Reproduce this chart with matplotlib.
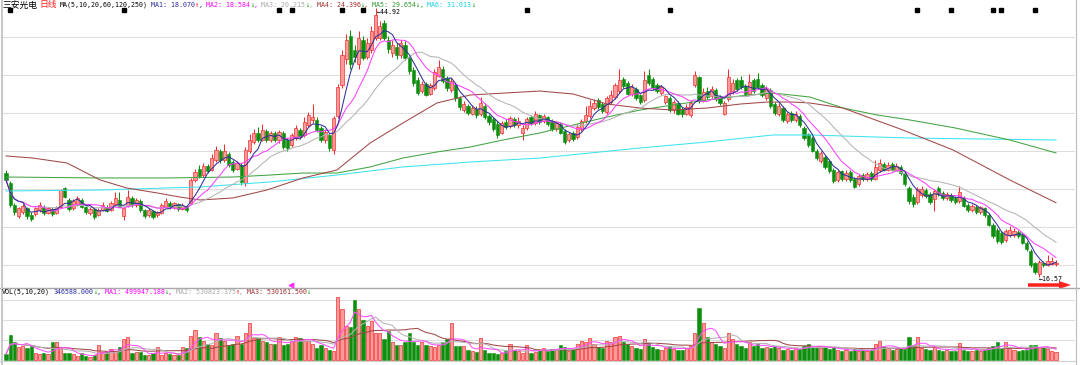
import numpy as np
import pandas as pd
import matplotlib
matplotlib.use('Agg')
import matplotlib.pyplot as plt
from matplotlib.patches import FancyArrow
from matplotlib.lines import Line2D
from matplotlib.transforms import blended_transform_factory

# ---------------- data ----------------
opens = [27.5,26.5,24.2,23.0,23.4,23.8,23.1,23.2,23.6,24.0,
         23.3,23.7,23.3,23.9,25.9,24.7,23.8,24.3,24.7,24.0,
         23.3,23.7,23.1,23.6,24.0,23.6,24.3,24.7,23.0,24.1,
         24.9,24.2,24.6,23.6,23.1,23.5,23.1,23.3,24.0,24.4,
         23.9,24.3,23.7,24.1,24.4,26.8,28.0,27.3,28.3,27.9,
         28.9,29.8,28.9,29.5,28.7,28.0,28.4,26.5,29.8,30.8,
         31.8,31.0,32.0,31.0,31.7,31.0,31.8,31.0,30.5,31.2,
         32.1,31.5,32.6,33.1,33.1,32.3,31.0,31.5,30.0,33.5,
         36.8,39.5,42.0,40.5,39.0,41.5,39.8,40.5,41.8,41.8,
         43.3,41.6,40.2,40.8,40.0,41.0,39.6,38.4,37.3,36.2,
         36.9,35.9,36.5,37.8,38.5,37.5,36.3,36.8,35.4,34.2,
         34.6,33.8,34.3,33.7,34.6,33.5,33.2,32.7,31.8,32.9,
         32.5,33.2,32.6,31.8,32.3,33.4,32.8,33.6,33.0,33.4,
         33.0,32.2,32.7,32.0,31.0,31.8,31.3,32.2,33.0,33.5,
         34.4,35.2,34.8,34.0,35.0,35.5,36.2,37.4,37.0,35.9,
         36.4,35.7,35.2,37.9,37.4,36.8,36.0,35.0,35.4,34.2,
         34.9,34.3,33.8,33.6,36.8,37.6,35.2,36.2,35.6,36.3,
         35.5,33.8,35.3,36.2,37.3,37.3,36.7,35.9,37.3,37.4,
         36.8,35.4,36.3,34.8,33.8,34.4,33.0,33.9,33.1,33.5,
         32.3,31.6,31.2,29.9,28.8,29.2,28.8,27.9,26.8,27.7,
         26.9,27.6,26.9,26.4,27.3,26.9,27.5,26.9,27.8,28.5,
         27.9,28.5,27.9,28.2,27.5,26.0,25.0,24.5,25.2,25.7,
         25.3,24.8,26.0,25.4,24.9,25.2,24.9,24.6,24.9,24.2,
         23.6,24.0,23.4,23.8,23.1,22.1,21.5,21.2,20.5,21.0,
         21.0,21.3,21.0,20.2,19.3,18.0,16.9,18.1,17.8,17.9,17.9]
closes = [26.8,24.2,23.4,23.8,24.1,23.0,22.7,23.8,24.2,23.3,
          23.8,23.2,24.0,25.7,25.0,23.7,24.6,24.9,24.0,23.4,
          23.7,22.9,23.6,24.2,23.5,24.4,24.9,24.0,23.8,25.0,
          24.2,24.7,23.6,23.0,23.6,22.9,23.4,24.2,24.6,23.9,
          24.4,23.7,24.1,23.6,26.8,27.6,27.2,28.3,27.7,29.1,
          30.0,28.9,29.8,28.4,27.9,28.6,26.6,30.0,31.0,31.7,
          31.0,32.1,31.0,31.7,31.0,31.9,30.3,30.2,31.5,32.3,
          31.3,32.9,33.6,33.4,32.1,31.0,31.9,30.2,33.3,36.6,
          40.0,41.5,39.0,39.8,41.8,39.7,41.2,42.5,44.2,43.0,
          41.8,40.6,41.0,40.0,41.2,39.6,38.3,37.0,36.0,36.9,
          35.8,36.8,38.2,38.7,37.2,36.5,37.2,35.4,34.5,34.8,
          33.9,34.4,33.6,34.9,33.4,32.9,32.2,31.5,32.8,32.4,
          33.3,32.6,33.0,32.3,33.2,32.8,33.8,32.9,33.5,32.7,
          32.2,32.8,31.8,30.8,31.6,31.1,32.4,33.0,33.6,34.6,
          34.9,34.5,34.1,35.4,35.8,36.8,37.3,36.7,35.9,36.6,
          35.4,35.0,37.3,37.0,36.5,36.2,36.6,35.6,34.2,35.0,
          33.8,33.7,34.5,34.9,37.9,35.1,36.1,35.5,36.4,35.3,
          34.9,34.9,37.6,37.0,36.4,36.6,35.9,37.1,36.2,36.6,
          35.7,36.4,34.6,33.9,34.6,33.1,33.8,33.1,33.8,32.6,
          31.2,30.5,29.9,29.1,29.6,28.2,27.7,26.7,27.6,26.9,
          27.5,26.8,26.1,27.2,26.9,27.4,26.9,28.2,28.6,27.9,
          28.4,27.9,28.3,27.5,26.4,24.6,24.3,25.8,25.8,25.1,
          24.5,25.6,25.3,24.9,25.3,24.7,24.5,25.5,24.1,23.6,
          24.1,23.4,23.9,23.1,22.1,20.9,20.4,20.3,21.4,21.5,
          21.4,20.9,20.2,19.5,17.8,17.1,18.2,17.8,18.3,18.3,18.1]
highs = [27.8,26.7,24.4,24.0,24.3,24.0,23.4,24.0,24.5,24.2,
         24.0,23.9,24.1,25.8,26.1,24.9,24.8,25.1,24.9,24.1,
         23.9,23.8,23.8,24.5,24.2,24.6,25.5,25.5,24.0,25.7,
         25.1,24.9,24.8,23.7,23.8,23.6,23.5,24.4,24.9,24.6,
         24.5,24.4,24.4,24.2,27.0,28.0,28.4,28.6,28.5,29.5,
         30.4,30.1,30.6,29.7,28.9,28.8,28.6,30.3,31.6,32.2,
         32.4,32.7,32.2,32.0,32.0,32.1,32.0,31.2,31.8,32.6,
         32.3,33.4,34.0,34.8,33.4,32.5,32.2,31.7,33.5,36.9,
         40.5,42.2,42.6,41.0,42.5,42.0,41.8,43.0,44.92,43.6,
         43.7,42.0,41.5,41.2,41.6,41.4,39.9,38.7,37.6,37.2,
         37.1,37.0,38.5,39.4,38.8,37.8,37.5,37.0,35.6,35.1,
         34.8,34.7,34.6,35.5,34.9,33.8,33.4,33.0,33.0,33.2,
         33.5,33.4,33.4,32.6,33.4,33.6,34.1,33.8,33.8,33.5,
         33.2,33.0,32.9,32.2,31.9,32.0,32.7,33.2,34.6,35.2,
         35.3,35.4,35.0,35.6,36.3,37.0,38.5,37.6,37.2,36.9,
         36.6,35.9,38.3,38.5,37.6,37.0,36.8,35.8,35.6,35.2,
         35.1,34.5,34.8,35.2,38.3,37.8,36.5,36.6,36.7,36.5,
         35.8,35.1,38.5,37.4,37.5,37.8,36.9,38.0,37.5,38.1,
         37.0,36.7,36.5,35.0,34.9,34.6,34.0,34.1,34.1,33.7,
         32.5,31.8,31.4,30.1,29.8,29.4,29.0,28.1,27.9,27.9,
         27.8,27.8,27.1,27.4,27.5,27.6,27.7,28.9,29.0,28.7,
         28.7,28.7,28.6,28.4,27.7,26.2,25.3,26.1,26.2,25.9,
         25.5,25.8,26.2,25.6,25.5,25.4,25.1,26.2,25.1,24.4,
         24.3,24.2,24.1,24.0,23.3,22.3,21.7,21.4,21.6,21.9,
         21.7,21.5,21.2,20.4,19.5,18.2,18.4,18.3,18.9,18.7,18.4]
lows = [26.6,23.9,23.1,22.8,23.2,22.7,22.5,23.0,23.4,23.1,
        23.2,23.0,23.2,23.8,24.9,23.5,23.6,24.1,23.8,23.2,
        23.1,22.7,23.0,23.5,23.4,23.5,24.2,23.9,22.6,24.0,
        24.0,24.0,23.4,22.8,22.9,22.7,22.9,23.2,23.9,23.7,
        23.7,23.5,23.6,23.4,24.3,26.6,27.0,27.1,27.5,27.7,
        28.7,28.6,28.7,28.2,27.6,27.8,26.3,26.2,29.6,30.6,
        30.8,30.9,30.8,30.8,30.8,30.7,30.1,29.9,30.3,31.0,
        31.1,31.3,32.4,32.8,31.9,30.8,30.7,29.9,29.5,33.3,
        36.5,39.0,38.5,39.2,38.5,39.4,39.5,40.2,41.5,41.5,
        41.5,40.2,39.8,39.5,39.7,39.4,38.0,36.7,35.8,36.0,
        35.6,35.7,36.3,37.6,37.0,36.2,36.1,35.1,34.2,34.0,
        33.6,33.6,33.3,33.5,33.2,32.6,32.0,31.2,31.6,32.2,
        32.3,32.4,32.3,31.0,32.1,32.6,32.6,32.7,32.8,32.5,
        32.0,32.0,31.6,30.6,30.8,30.9,31.1,32.0,32.8,33.3,
        34.2,34.3,33.9,33.8,34.8,35.3,36.0,36.5,35.7,35.6,
        35.2,34.8,35.0,36.8,36.3,36.0,35.8,34.8,34.0,33.9,
        33.6,33.4,33.6,33.4,36.6,34.9,35.0,35.3,35.4,35.1,
        34.7,33.6,35.1,35.9,36.2,36.4,35.7,35.8,36.0,36.4,
        35.5,35.2,34.4,33.6,33.5,32.9,32.8,32.9,32.9,32.4,
        31.0,30.3,29.7,28.9,28.6,28.0,27.5,26.5,26.6,26.7,
        26.7,26.6,25.9,26.2,26.7,26.7,26.7,26.8,27.6,27.7,
        27.7,27.7,27.7,27.3,26.2,24.3,24.0,24.3,25.0,24.9,
        24.3,23.5,25.1,24.7,24.7,24.5,24.3,24.4,23.9,23.4,
        23.4,23.2,23.2,22.9,21.9,20.7,20.2,20.1,20.3,20.8,
        20.8,20.7,20.0,19.3,17.6,16.9,16.57,17.6,17.7,17.8,17.7]
# volume in units of 10,000 shares
volume = [25,109,78,56,61,52,61,29,25,29,25,78,78,52,29,29,
          25,16,29,16,12,20,65,34,38,47,38,56,92,100,29,34,34,20,20,29,56,20,29,25,20,20,56,52,105,131,
          100,
          83,69,65,118,96,83,65,69,105,69,118,158,96,96,83,78,69,69,100,65,69,83,100,96,83,83,69,52,65,52,
          45,
          38,269,220,145,140,256,220,172,145,167,114,114,92,123,78,65,65,78,114,78,65,78,65,61,56,65,78,92,158,61,
          61,
          61,43,38,34,96,43,29,29,25,29,38,69,43,38,29,65,29,34,
          43,52,38,47,43,65,56,38,47,69,83,78,96,69,
          56,52,83,78,100,105,78,69,61,52,47,92,69,56,47,43,52,61,47,43,43,52,61,
          118,224,
          160,100,78,69,61,52,118,92,69,61,52,78,61,69,52,56,52,61,52,43,47,43,52,47,61,
          69,61,56,52,56,47,56,43,38,43,38,47,38,43,38,43,69,83,56,52,43,47,
          50,48,100,60,100,52,48,45,55,45,40,45,38,40,73,45,40,38,45,40,
          48,52,60,79,52,79,50,45,40,45,45,64,64,55,55,48,40,34.6588]

# long moving averages (candle index, price)
ma60_idx = [0, 6.4, 14.5, 22.4, 28.8, 36, 41.4, 46.2, 54, 62.1, 70.7, 78.8, 86.7, 94.5, 102.6,
            110.5, 127.1, 135, 143.1, 151, 158.8, 166.9, 174.8, 181.2, 187.4, 191.4, 199.3,
            205.7, 212.9, 225.5, 239, 250]
ma60_val = [29.33, 29.11, 28.59, 26.80, 25.95, 25.43, 25.00, 24.69, 24.90, 25.74, 27.01, 27.85,
            30.70, 32.80, 34.91, 35.75, 36.17, 35.86, 34.80, 34.38, 34.17, 34.38, 34.80, 35.01,
            35.01, 34.91, 34.38, 33.33, 32.17, 29.96, 26.80, 24.40]
ma120_idx = [0, 22.4, 38.3, 54, 62.9, 70.7, 78.8, 86.7, 94.5, 102.6, 110.5, 118.3, 127.1, 135,
             143.1, 151, 158.8, 166.9, 174.8, 182.6, 191.4, 199.3, 207.4, 215.2, 226, 239, 250]
ma120_val = [27.11, 27.01, 27.01, 27.11, 27.32, 27.53, 27.53, 28.17, 29.11, 29.75, 30.27, 31.01,
             31.75, 32.59, 33.43, 34.17, 34.70, 35.23, 35.65, 35.96, 35.54, 34.38, 33.65, 33.12,
             32.28, 31.01, 29.65]
ma250_idx = [0, 22.4, 46.2, 62.9, 78.8, 94.5, 110.5, 127.1, 151, 166.9, 182.6, 191.4, 215.2, 250]
ma250_val = [25.64, 25.74, 26.06, 26.59, 27.32, 28.17, 28.69, 29.11, 30.17, 30.80, 31.54, 31.54,
             31.22, 31.01]

marker_idx = [1, 28, 65, 68, 80, 85, 124, 158, 217, 225, 235, 237, 245]
price_grid = [17.84, 21.84, 25.85, 29.85, 33.86, 37.86, 41.86]
vol_grid = [86, 172, 258]

title_items = [("MA1: 18.070", "#2a2aa0", "↑", "#ff0000"),
               ("MA2: 18.584", "#ff00ff", "↓", "#009a00"),
               ("MA3: 20.215", "#a8a8a8", "↓", "#009a00"),
               ("MA4: 24.396", "#a03030", "↓", "#009a00"),
               ("MA5: 29.654", "#2e9a2e", "↓", "#009a00"),
               ("MA6: 31.013", "#18d0e8", "↓", "#009a00")]
vol_items = [("MA1: 499947.188", "#ff00ff", "↓", "#009a00"),
             ("MA2: 530823.375", "#a8a8a8", "↑", "#ff0000"),
             ("MA3: 530161.500", "#a03030", "↓", "#009a00")]

# ---------------- figure ----------------
W, H = 1080, 365
fig = plt.figure(figsize=(W / 100, H / 100), dpi=100)
fig.patch.set_facecolor('white')

def fx(px):
    return px / W

def fy(py):
    return 1 - py / H

X_LEFT, X_RIGHT = 3, 1075
ax = fig.add_axes([fx(X_LEFT), fy(287), (X_RIGHT - X_LEFT) / W, 287 / H])
axv = fig.add_axes([fx(X_LEFT), fy(362), (X_RIGHT - X_LEFT) / W, (362 - 288) / H])

n = len(closes)
idx = np.arange(n)
o = np.array(opens); c = np.array(closes); h = np.array(highs); l = np.array(lows)
v = np.array(volume, dtype=float)
up = c >= o

STEP = 4.2
xlim = (-(6 - X_LEFT) / STEP, (X_RIGHT - 6) / STEP)
PPY = 9.49
ax.set_xlim(*xlim)
ax.set_ylim(44.92 - (287 - 8) / PPY, 44.92 + 8 / PPY)
VPX = 4.3
axv.set_xlim(*xlim)
axv.set_ylim(-(362 - 360) * VPX, (360 - 288) * VPX)

for a in (ax, axv):
    a.set_facecolor('white')
    for s in a.spines.values():
        s.set_visible(False)
    a.set_xticks([]); a.set_yticks([])

GRID = '#dedede'
for g in price_grid:
    ax.axhline(g, color=GRID, lw=0.8, zorder=0)
for g in vol_grid:
    axv.axhline(g, color=GRID, lw=0.8, zorder=0)

RED_E, RED_F = '#f03030', '#ff9a9a'
GRN = '#0d8f0d'

# candles
ax.vlines(idx[up], l[up], h[up], color=RED_E, lw=0.75, zorder=2)
ax.vlines(idx[~up], l[~up], h[~up], color=GRN, lw=0.75, zorder=2)
body_lo = np.minimum(o, c)
body_h = np.maximum(np.abs(c - o), 0.1)
ax.bar(idx[up], body_h[up], bottom=body_lo[up], width=0.72, color=RED_F,
       edgecolor=RED_E, linewidth=0.5, zorder=3)
ax.bar(idx[~up], body_h[~up], bottom=body_lo[~up], width=0.72, color=GRN,
       edgecolor=GRN, linewidth=0.4, zorder=3)

# moving averages
cs = pd.Series(c)
ma5 = cs.rolling(5, min_periods=1).mean()
ma10 = cs.rolling(10, min_periods=1).mean()
ma20 = cs.rolling(20, min_periods=1).mean()
LW = 0.75
ax.plot(ma250_idx, ma250_val, color='#3fe3ef', lw=LW, zorder=4)
ax.plot(ma120_idx, ma120_val, color='#42a442', lw=LW, zorder=4)
ax.plot(ma60_idx, ma60_val, color='#a04848', lw=LW, zorder=4)
ax.plot(idx, ma20, color='#b4b4b4', lw=LW, zorder=4)
ax.plot(idx, ma10, color='#ff40ff', lw=LW, zorder=5)
ax.plot(idx, ma5, color='#30309a', lw=LW, zorder=5)

# markers row
tr = blended_transform_factory(ax.transData, ax.transAxes)
ax.plot(marker_idx, [1 - 10 / 287] * len(marker_idx), 's', color='black',
        markersize=2.6, transform=tr, zorder=6, clip_on=False)

# volume
axv.bar(idx[up], v[up], width=0.72, color=RED_F, edgecolor=RED_E, linewidth=0.5, zorder=2)
axv.bar(idx[~up], v[~up], width=0.72, color=GRN, edgecolor=GRN, linewidth=0.4, zorder=2)
vs = pd.Series(v)
axv.plot(idx, vs.rolling(20, min_periods=1).mean(), color='#a04848', lw=LW, zorder=3)
axv.plot(idx, vs.rolling(10, min_periods=1).mean(), color='#b4b4b4', lw=LW, zorder=3)
axv.plot(idx, vs.rolling(5, min_periods=1).mean(), color='#ff50ff', lw=LW, zorder=4)

# frame lines
def hline(y, x0, x1, color, lw):
    fig.add_artist(Line2D([fx(x0), fx(x1)], [fy(y), fy(y)], color=color, lw=lw,
                          transform=fig.transFigure))

def vline(x, y0, y1, color, lw):
    fig.add_artist(Line2D([fx(x), fx(x)], [fy(y0), fy(y1)], color=color, lw=lw,
                          transform=fig.transFigure))

hline(287.5, 0, 1080, '#a8a8a8', 1.0)
hline(361, 0, 1076, '#d0d0d0', 0.8)
vline(1.5, 0, 365, '#c8c8c8', 1.4)
vline(1075.5, 0, 365, '#c0c0c0', 0.9)

# ---------------- texts ----------------
MONO = 'DejaVu Sans Mono'
CJK = ['Noto Sans CJK SC', 'DejaVu Sans']
FS = 4.75
CW = 3.95
TY = 5

def T(x, y, s, color='black', size=FS, family=MONO):
    fig.text(fx(x), fy(y), s, color=color, fontsize=size, family=family,
             ha='left', va='center')

T(2, TY, '三安光电', 'black', 6.3, CJK)
T(39, TY, '日线', '#ff2020', 6.3, CJK)
T(60, TY, 'MA(5,10,20,60,120,250)')
x0 = 60 + 23 * CW
for k, (lab, col, arr, acol) in enumerate(title_items):
    xs = x0 + k * 14 * CW
    T(xs, TY, lab, col)
    T(xs + 11 * CW, TY, arr, acol)
    if k < len(title_items) - 1:
        T(xs + 12 * CW, TY, ',', col)

T(2, 292, 'VOL(5,10,20)')
T(2 + 13 * CW, 292, '346588.000', '#2a2aa0')
T(2 + 23 * CW, 292, '↓', '#009a00')
T(2 + 24 * CW, 292, ',', '#2a2aa0')
xv = 2 + 26 * CW
for k, (lab, col, arr, acol) in enumerate(vol_items):
    xs = xv + k * 18 * CW
    T(xs, 292, lab, col)
    T(xs + 15 * CW, 292, arr, acol)
    if k < len(vol_items) - 1:
        T(xs + 16 * CW, 292, ',', col)

T(377, 12, '←44.92')
T(1039, 279, '←16.57')

# red arrow near the low
fig.add_artist(FancyArrow(fx(1028), fy(285), (1071 - 1028) / W, 0,
                          width=3.5 / H, head_width=8 / H, head_length=12 / W,
                          length_includes_head=True, color='#ff2020', lw=0,
                          transform=fig.transFigure))
# small magenta pointer
fig.add_artist(Line2D([fx(291)], [fy(285)], marker='<', color='#ff30ff',
                      markersize=3.2, lw=0, transform=fig.transFigure))

fig.savefig('out.png', dpi=100, facecolor='white')
